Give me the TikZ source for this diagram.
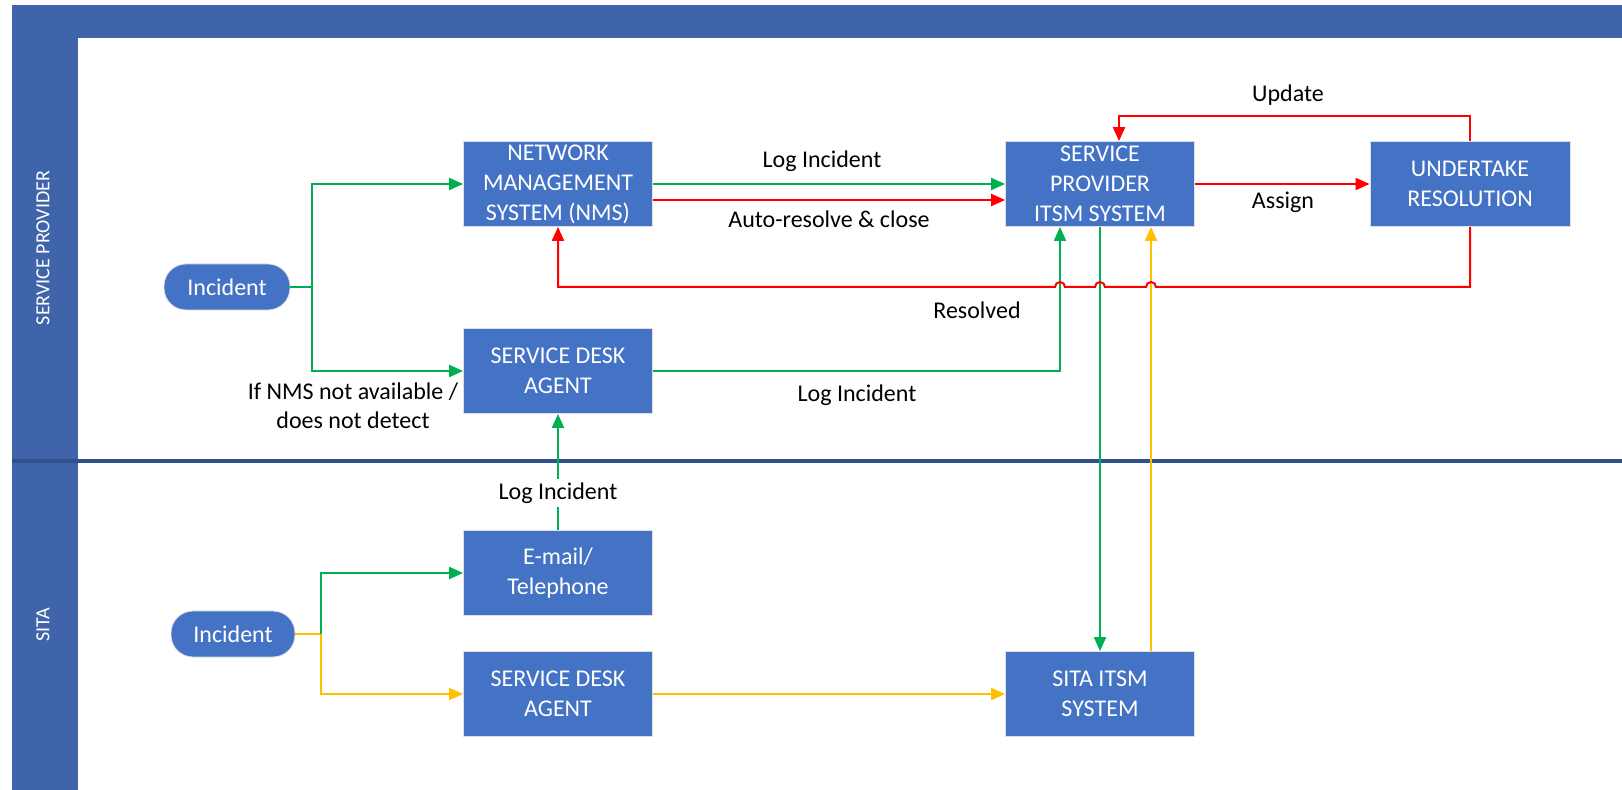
\documentclass[tikz,border=0pt]{standalone}
\usepackage{fontspec}
\setmainfont{Carlito}
\usetikzlibrary{arrows.meta,calc}

\definecolor{boxblue}{HTML}{4472C4}
\definecolor{laneblue}{HTML}{3F64AA}
\definecolor{lanerule}{HTML}{2F528F}
\definecolor{okgreen}{HTML}{00B050}
\definecolor{alertred}{HTML}{FF0000}
\definecolor{sitagold}{HTML}{FFC000}

\begin{document}
\begin{tikzpicture}[x=0.5pt,y=-0.5pt]
  \tikzstyle{procbox}=[draw=gray!25, fill=boxblue, text=white, minimum width=94.5pt, minimum height=42.5pt, inner sep=0pt, align=center, font=\fontsize{12}{15}\selectfont]
  \tikzstyle{eventbox}=[procbox, rounded corners=11pt, minimum width=63pt, minimum height=23pt]
  \tikzstyle{flow}=[line width=1pt, -{Triangle[length=7pt,width=6pt]}]
  \tikzstyle{note}=[text=black, font=\fontsize{12}{14.5}\selectfont, align=center, inner sep=1pt]
  \tikzstyle{lanetext}=[text=white, rotate=90, font=\fontsize{10}{12}\selectfont]

  \useasboundingbox (0,0) rectangle (1622,790);
  % swimlanes
  \fill[laneblue] (12,5) rectangle (1622,38);
  \fill[laneblue] (12,38) rectangle (78,790);
  \draw[lanerule, line width=1.75pt] (12,461) -- (1622,461);
  \node[lanetext] (lanesp) at (43,248) {SERVICE PROVIDER};
  \node[lanetext] (lanesita) at (43,625) {SITA};

  % service provider lane
  \node[eventbox] (inctop) at (227,287) {Incident};
  \node[procbox] (nms) at (558,184) {NETWORK\\MANAGEMENT\\SYSTEM (NMS)};
  \node[procbox] (sdtop) at (558,371) {SERVICE DESK\\AGENT};
  \node[procbox] (spitsm) at (1100,184) {SERVICE\\PROVIDER\\ITSM SYSTEM};
  \node[procbox, minimum width=100pt] (undertake) at (1470,184) {UNDERTAKE\\RESOLUTION};

  % sita lane
  \node[eventbox, minimum width=62pt] (incbot) at (233,634) {Incident};
  \node[procbox] (email) at (558,573) {E-mail/\\Telephone};
  \node[procbox] (sdbot) at (558,694) {SERVICE DESK\\AGENT};
  \node[procbox] (sitaitsm) at (1100,694) {SITA ITSM\\SYSTEM};

  \coordinate (fork1) at (312,287);
  \coordinate (fork2) at (321,634);
  \coordinate (sdin) at ($(spitsm.south)+(-40,0)$);
  \coordinate (yelin) at ($(spitsm.south)+(51,0)$);
  \coordinate (updin) at ($(spitsm.north)+(19,0)$);
  \coordinate (backrow) at (1470,287);

  \draw[line width=1pt, okgreen] (inctop) -- (fork1);
  \draw[flow, okgreen] (fork1) |- (nms);
  \draw[flow, okgreen] (fork1) |- (sdtop);
  \draw[flow, okgreen] (nms) -- (spitsm);
  \draw[flow, alertred] ([yshift=-8pt]nms.east) -- ([yshift=-8pt]spitsm.west);
  \draw[flow, alertred] (spitsm) -- (undertake);
  \draw[flow, alertred] (undertake.north) -- ++(0,-25) -| (updin);
  \draw[flow, okgreen] (sdtop) -| (sdin);
  \draw[flow, okgreen] (spitsm) -- (sitaitsm);
  \draw[flow, sitagold] (sitaitsm.north -| yelin) -- (yelin);
  \draw[flow, alertred] (undertake.south) |- ($(yelin |- backrow)+(5,0)$) arc(0:-180:5)
    -- ($(spitsm.south |- backrow)+(5,0)$) arc(0:-180:5)
    -- ($(sdin |- backrow)+(5,0)$) arc(0:-180:5)
    -- (nms.south |- backrow) -- (nms.south);
  \draw[flow, okgreen] (email) -- node[note, fill=white, inner sep=2pt, pos=0.32] {Log Incident} (sdtop);

  \draw[line width=1pt, sitagold] (incbot) -- (fork2);
  \draw[flow, okgreen] (fork2) |- (email);
  \draw[flow, sitagold] (fork2) |- (sdbot);
  \draw[flow, sitagold] (sdbot) -- (sitaitsm);

  % labels
  \node[note] (lbllog) at (822,161) {Log Incident};
  \node[note] (lblauto) at (829,219) {Auto-resolve \& close};
  \node[note] (lblassign) at (1283,202) {Assign};
  \node[note] (lblupdate) at (1288,95) {Update};
  \node[note] (lblresolved) at (977,310) {Resolved};
  \node[note] (lbllogsd) at (857,395) {Log Incident};
  \node[note] (lblnms) at (353,406) {If NMS not available /\\does not detect};
\end{tikzpicture}
\end{document}
